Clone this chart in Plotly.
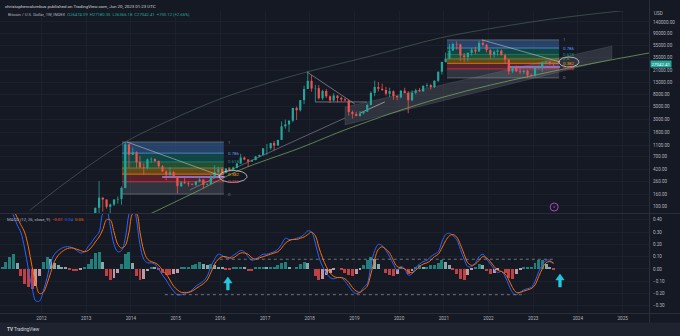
import numpy as np
import pandas as pd
import plotly.graph_objects as go

W, H = 680, 336
BG = "#151924"
GRID = "#1c202c"
TXT = "#b2b5be"
FONT = "Roboto"
UP, DN = "#26a69a", "#ef5350"

# ---------------- price data: monthly OHLC (Jan 2013 .. Jun 2023) ----------------
ohlc_start = "2013-01-01"
opens = [13.3, 20.4, 33.4, 93, 139, 129, 97, 106, 129, 132, 204, 1130,
         754, 830, 560, 457, 445, 627, 638, 586, 477, 388, 338, 377,
         318, 218, 254, 244, 236, 230, 263, 284, 230, 236, 314, 378,
         430, 369, 437, 416, 448, 531, 673, 624, 575, 609, 700, 745,
         966, 970, 1190, 1080, 1350, 2300, 2480, 2870, 4740, 4340, 6450, 10000,
         13800, 10200, 10300, 6930, 9240, 7490, 6390, 7730, 7010, 6630, 6370, 4030,
         3740, 3460, 3830, 4100, 5320, 8560, 10800, 10080, 9600, 8300, 9150, 7570,
         7200, 9350, 8540, 6420, 8630, 9450, 9140, 11350, 11650, 10780, 13800, 19700,
         28950, 33100, 45200, 58800, 57700, 37300, 35050, 41500, 47100, 43800, 61300, 57000,
         46300, 38500, 43200, 45500, 37700, 31800, 19950, 23300, 20050, 19430, 20500, 17150,
         16550, 23130, 23150, 28480, 29250, 27200]
highs = [20.4, 33.4, 94, 266, 140, 129, 110, 130, 146, 215, 1240, 1160,
         1000, 860, 720, 540, 650, 680, 650, 600, 500, 410, 460, 400,
         320, 265, 300, 262, 245, 268, 315, 285, 244, 335, 500, 470,
         460, 448, 440, 470, 545, 780, 700, 626, 620, 720, 755, 975,
         1150, 1200, 1290, 1350, 2790, 3000, 2920, 4750, 5000, 6470, 11400, 19800,
         17200, 11800, 11700, 9750, 10000, 7760, 8500, 7760, 7400, 7000, 6560, 4300,
         4100, 4200, 4150, 5600, 9100, 13900, 13200, 12300, 10900, 10500, 9500, 7750,
         9600, 10500, 9190, 9500, 10070, 10400, 11450, 12500, 12100, 14100, 19900, 29300,
         41950, 58350, 61800, 64900, 59500, 41300, 42300, 50500, 52900, 67000, 69000, 59100,
         47900, 45800, 48200, 47400, 40000, 31900, 24650, 25200, 22800, 21000, 21450, 18400,
         23950, 25250, 29200, 31000, 29850, 27500]
lows = [13.2, 19.1, 33, 50, 80, 90, 65, 100, 110, 105, 200, 450,
        750, 450, 440, 340, 420, 550, 560, 450, 380, 275, 320, 300,
        165, 210, 240, 215, 226, 220, 253, 198, 225, 235, 305, 350,
        350, 365, 400, 412, 440, 530, 605, 465, 570, 605, 685, 740,
        750, 915, 890, 1070, 1350, 2100, 1840, 2700, 2950, 4100, 5500, 10000,
        9000, 6000, 6600, 6450, 7000, 5750, 6080, 5880, 6100, 6200, 3500, 3130,
        3400, 3370, 3700, 4070, 5300, 7500, 9050, 9300, 7700, 7300, 6500, 6430,
        6850, 8450, 3850, 6150, 8100, 8900, 8900, 10500, 9850, 10400, 13200, 17600,
        28200, 32300, 44950, 47000, 30000, 28800, 29300, 37300, 39600, 43300, 53300, 42000,
        32900, 34300, 37200, 37700, 26700, 17600, 18800, 19550, 18150, 18200, 15500, 16250,
        16500, 21400, 19600, 26950, 25800, 24800]
closes = [20.4, 33.4, 93, 139, 129, 97, 106, 129, 132, 204, 1130, 754,
          830, 560, 457, 445, 627, 638, 586, 477, 388, 338, 377, 318,
          218, 254, 244, 236, 230, 263, 284, 230, 236, 314, 378, 430,
          369, 437, 416, 448, 531, 673, 624, 575, 609, 700, 745, 966,
          970, 1190, 1080, 1350, 2300, 2480, 2870, 4740, 4340, 6450, 10000, 13800,
          10200, 10300, 6930, 9240, 7490, 6390, 7730, 7010, 6630, 6370, 4030, 3740,
          3460, 3830, 4100, 5320, 8560, 10800, 10080, 9600, 8300, 9150, 7570, 7200,
          9350, 8540, 6420, 8630, 9450, 9140, 11350, 11650, 10780, 13800, 19700, 28950,
          33100, 45200, 58800, 57700, 37300, 35050, 41500, 47100, 43800, 61300, 57000, 46300,
          38500, 43200, 45500, 37700, 31800, 19950, 23300, 20050, 19430, 20500, 17150, 16550,
          23130, 23150, 28480, 29250, 27200, 27042.41]
last_price = 27042.41

# ---------------- MACD (12, 26, close, 9): monthly readings, Feb 2011 .. Jun 2023 ----------------
macd_start = "2011-02-01"
macd_line = [0.60, 0.56, 0.50, 0.44, 0.36, 0.30, 0.17, 0.00, -0.15, -0.26, -0.26,
             -0.18, -0.07, 0.05, 0.12, 0.15, 0.17, 0.18, 0.18, 0.17, 0.15, 0.13, 0.14,
             0.18, 0.22, 0.26, 0.30, 0.45, 0.48, 0.35, 0.20, 0.14, 0.15, 0.25, 0.45,
             0.55, 0.40, 0.20, 0.08, 0.05, 0.05, 0.04, 0.00, -0.05, -0.09, -0.14, -0.18,
             -0.21, -0.21, -0.20, -0.19, -0.17, -0.14, -0.12, -0.10, -0.06, 0.02, 0.08, 0.12,
             0.11, 0.09, 0.09, 0.11, 0.13, 0.15, 0.14, 0.10, 0.07, 0.08, 0.10, 0.12,
             0.12, 0.13, 0.14, 0.16, 0.20, 0.25, 0.24, 0.24, 0.25, 0.26, 0.28, 0.31,
             0.30, 0.21, 0.10, 0.02, -0.03, -0.07, -0.08, -0.07, -0.07, -0.10, -0.14, -0.18,
             -0.20, -0.19, -0.15, -0.12, 0.03, 0.15, 0.20, 0.19, 0.15, 0.10, 0.04, -0.01,
             0.02, 0.00, -0.05, -0.04, 0.01, 0.04, 0.06, 0.07, 0.10, 0.12, 0.14, 0.22,
             0.28, 0.29, 0.27, 0.24, 0.16, 0.08, 0.02, 0.02, 0.05, 0.10, 0.12, 0.08,
             0.04, 0.00, -0.03, -0.02, -0.06, -0.13, -0.19, -0.21, -0.19, -0.17, -0.16, -0.15,
             -0.10, -0.02, 0.03, 0.07, 0.07, 0.04]
signal_line = [0.55, 0.55, 0.52, 0.48, 0.42, 0.36, 0.30, 0.18, 0.02, -0.12, -0.20,
               -0.19, -0.12, -0.03, 0.06, 0.11, 0.14, 0.16, 0.17, 0.17, 0.16, 0.15, 0.14,
               0.15, 0.18, 0.22, 0.26, 0.32, 0.40, 0.40, 0.30, 0.20, 0.17, 0.19, 0.30,
               0.45, 0.45, 0.30, 0.15, 0.08, 0.06, 0.05, 0.03, -0.01, -0.04, -0.09, -0.14,
               -0.17, -0.19, -0.19, -0.19, -0.18, -0.16, -0.14, -0.12, -0.09, -0.03, 0.04, 0.08,
               0.10, 0.10, 0.09, 0.09, 0.11, 0.13, 0.13, 0.12, 0.09, 0.08, 0.09, 0.10,
               0.11, 0.12, 0.13, 0.14, 0.17, 0.21, 0.23, 0.24, 0.24, 0.25, 0.26, 0.28,
               0.30, 0.27, 0.18, 0.09, 0.02, -0.03, -0.06, -0.07, -0.07, -0.08, -0.11, -0.15,
               -0.18, -0.19, -0.17, -0.14, -0.04, 0.08, 0.16, 0.18, 0.16, 0.13, 0.07, 0.02,
               0.01, 0.00, -0.02, -0.03, -0.01, 0.02, 0.04, 0.05, 0.07, 0.10, 0.12, 0.17,
               0.23, 0.27, 0.28, 0.26, 0.20, 0.12, 0.05, 0.03, 0.04, 0.07, 0.10, 0.09,
               0.06, 0.02, -0.01, -0.02, -0.04, -0.09, -0.15, -0.19, -0.19, -0.18, -0.17, -0.16,
               -0.13, -0.06, 0.00, 0.05, 0.06, 0.05]
macd_hist = [0.02, 0.06, 0.10, 0.12, 0.05, -0.06, -0.12, -0.15, -0.16, -0.14, -0.06,
             0.06, 0.10, 0.08, 0.05, 0.03, 0.02, 0.01, -0.01, -0.02, -0.02, -0.01, 0.01,
             0.04, 0.08, 0.13, 0.14, 0.06, -0.06, -0.09, -0.07, -0.03, 0.04, 0.12, 0.14,
             0.05, -0.06, -0.09, -0.08, -0.02, 0.02, 0.01, -0.01, -0.03, -0.05, -0.05, -0.04,
             -0.03, 0.01, 0.02, 0.02, 0.03, 0.04, 0.06, 0.04, 0.03, 0.04, 0.03, 0.02,
             0.01, -0.01, -0.01, 0.01, 0.02, 0.02, 0.01, -0.02, -0.02, 0.01, 0.01, 0.02,
             0.01, 0.01, 0.01, 0.03, 0.05, 0.06, 0.02, 0.00, 0.02, 0.04, 0.06, 0.05,
             0.00, -0.06, -0.09, -0.08, -0.05, -0.03, -0.01, 0.00, -0.01, -0.03, -0.05, -0.06,
             -0.04, -0.01, 0.03, 0.07, 0.10, 0.08, 0.04, 0.00, -0.03, -0.05, -0.06, -0.04,
             0.01, 0.00, -0.04, -0.02, 0.01, 0.03, 0.02, 0.02, 0.03, 0.03, 0.05, 0.07,
             0.06, 0.03, -0.01, -0.04, -0.08, -0.09, -0.05, -0.01, 0.02, 0.04, 0.03, -0.02,
             -0.04, -0.03, -0.01, 0.00, -0.03, -0.07, -0.08, -0.04, -0.01, 0.01, 0.01, 0.02,
             0.05, 0.07, 0.07, 0.04, 0.02, -0.01]

# ---------------- axis ticks ----------------
price_ticks = [100, 160, 260, 420, 700, 1100, 1800, 3000, 5000, 8000,
               13000, 21000, 35000, 55000, 90000, 140000]
macd_ticks = [-0.3, -0.2, -0.1, 0.0, 0.1, 0.2, 0.3, 0.4]
years = list(range(2012, 2026))

# ---------------- drawings (decimal year, price) ----------------
fib_levels = [0, 0.236, 0.382, 0.5, 0.618, 0.786, 1]
fib_labels = ["0", "0.236", "0.382", "0.5", "0.618", "0.786", "1"]
fib1_time, fib1_range = [2013.80, 2016.08], [160, 1240]
fib2_time, fib2_range = [2021.07, 2023.58], [15500, 69000]

arc_t = [2011.743, 2012.861, 2013.913, 2014.987, 2015.993, 2016.999, 2017.94,
         2019.461, 2020.915, 2022.257, 2023.6, 2025.59]
arc_p = [85, 381, 1292, 3190, 6750, 12170, 19530, 38100, 74500, 114800, 163700, 242700]
green_t = [2014.427, 2015.546, 2016.44, 2017.783, 2018.9, 2020.915, 2023.264, 2025.59]
green_p = [73, 188, 412, 980, 2150, 7015, 18800, 41200]
trend_t = [2015.32, 2016.33, 2017.56, 2018.79]
trend_p = [188, 446, 1194, 3190]
band_t = [2018.79, 2024.76, 2024.76, 2018.79]
band_p = [4920, 54300, 32600, 2426]
tri_t, tri_p = [2017.94, 2019.01], [19530, 5546]
flat_t, flat_p = [2018.12, 2019.28], [6000, 6000]
small_t, small_p = [2019.13, 2019.68], [3890, 6000]
diag1_t, diag1_p = [2013.913, 2016.08], [1240, 313]
diag2_t, diag2_p = [2021.855, 2023.60], [69000, 28940]
purple1_t, purple1_p = [2014.70, 2016.10], [313, 313]
purple2_t, purple2_p = [2022.43, 2023.60], [23770, 23770]
ell1 = [2016.284, 320, 0.313, 0.1026]   # centre t, centre price, half-width (yr), half-height (decades)
ell2 = [2023.80, 28940, 0.224, 0.0855]
event_t, event_p = 2023.47, 96

macd_hi_t, macd_hi_v = [2015.99, 2023.49], [0.079, 0.079]
macd_lo_t, macd_lo_v = [2014.76, 2022.82], [-0.209, -0.209]
arrow_tips = [(2016.17, -0.065), (2023.60, -0.041)]

# pixel scale of the two panes (for drawing fixed-size arrow glyphs)
PX_PER_YEAR = 44.7
PX_PER_MACD = 123.0


def dy(t):
    y = int(np.floor(t))
    a, b = pd.Timestamp(y, 1, 1), pd.Timestamp(y + 1, 1, 1)
    return a + (b - a) * (t - y)


def dys(ts):
    return [dy(t) for t in ts]


months = pd.date_range(ohlc_start, periods=len(closes), freq="MS") + pd.Timedelta(days=15)
mmonths = pd.date_range(macd_start, periods=len(macd_line), freq="MS") + pd.Timedelta(days=15)

fig = go.Figure()


def seg(ts, ps, color, width=0.8, dash=None, shape="linear", xa="x", ya="y", fill=None, fillcolor=None):
    fig.add_trace(go.Scatter(x=dys(ts), y=ps, mode="lines", xaxis=xa, yaxis=ya,
                             line=dict(color=color, width=width, dash=dash, shape=shape),
                             fill=fill, fillcolor=fillcolor, hoverinfo="skip"))


# --- fib retracements (filled bands) ---
band_cols = ["rgba(120,123,134,0.28)", "rgba(242,54,69,0.30)", "rgba(255,152,0,0.35)",
             "rgba(76,175,80,0.35)", "rgba(8,153,129,0.35)", "rgba(66,135,210,0.38)"]
lvl_cols = ["#787b86", "#f23645", "#ff9800", "#4caf50", "#089981", "#5b9cf6", "#787b86"]


def fib_prices(rng):
    lo, hi = np.log10(rng[0]), np.log10(rng[1])
    return [10 ** (lo + L * (hi - lo)) for L in fib_levels]


annotations = []
for ft, fr in [(fib1_time, fib1_range), (fib2_time, fib2_range)]:
    lv = fib_prices(fr)
    for i in range(len(lv) - 1):
        seg([ft[0], ft[1], ft[1], ft[0], ft[0]], [lv[i], lv[i], lv[i + 1], lv[i + 1], lv[i]],
            "rgba(0,0,0,0)", width=0, fill="toself", fillcolor=band_cols[i])
    for i, p in enumerate(lv):
        seg(ft, [p, p], lvl_cols[i], width=0.7)
        annotations.append(dict(x=dy(ft[1] + 0.04), y=np.log10(p), xref="x", yref="y", text=fib_labels[i],
                                showarrow=False, xanchor="left", yanchor="middle",
                                font=dict(size=4.4, color=lvl_cols[i], family=FONT)))

# --- channel band & trend lines ---
seg(band_t + [band_t[0]], band_p + [band_p[0]], "rgba(150,153,165,0.35)", width=0.5,
    fill="toself", fillcolor="rgba(150,153,165,0.20)")
seg(arc_t, arc_p, "rgba(120,160,135,0.45)", width=0.8, shape="spline")
seg(green_t, green_p, "rgba(130,180,100,0.75)", width=0.9, shape="spline")
seg(trend_t, trend_p, "rgba(170,173,185,0.6)", width=0.8)
seg(tri_t, tri_p, "rgba(200,200,210,0.7)", width=0.7)
seg(flat_t, flat_p, "rgba(200,200,210,0.7)", width=0.7)
seg(small_t, small_p, "rgba(220,220,230,0.8)", width=0.7)
seg(purple1_t, purple1_p, "rgba(149,117,205,0.9)", width=2)
seg(purple2_t, purple2_p, "rgba(149,117,205,0.9)", width=2)

# --- candles: thin wicks + narrow bodies ---
for up in (True, False):
    wx, wy, bx, by = [], [], [], []
    for d, o, h, l, c in zip(months, opens, highs, lows, closes):
        if (c >= o) != up:
            continue
        wx += [d, d, None]
        wy += [l, h, None]
        bx += [d, d, None]
        by += [o, c if c != o else o * 1.01, None]
    col = UP if up else DN
    fig.add_trace(go.Scatter(x=wx, y=wy, mode="lines", line=dict(color=col, width=0.8),
                             hoverinfo="skip", connectgaps=False))
    fig.add_trace(go.Scatter(x=bx, y=by, mode="lines", line=dict(color=col, width=2.2),
                             hoverinfo="skip", connectgaps=False))

seg(diag1_t, diag1_p, "rgba(210,210,220,0.75)", width=0.7)
seg(diag2_t, diag2_p, "rgba(210,210,220,0.75)", width=0.7)

# --- ellipses ---
ang = np.linspace(0, 2 * np.pi, 73)
for e in [ell1, ell2]:
    et = e[0] + e[2] * np.cos(ang)
    ep = 10 ** (np.log10(e[1]) + e[3] * np.sin(ang))
    seg(list(et), list(ep), "rgba(230,230,235,0.9)", width=0.8)

fig.add_trace(go.Scatter(x=[dy(event_t)], y=[event_p], mode="markers", hoverinfo="skip",
                         marker=dict(symbol="circle-open-dot", size=8, color="#ab47bc",
                                     line=dict(width=1, color="#ab47bc"))))

# --- MACD pane ---
hcols = []
for i, h in enumerate(macd_hist):
    prev = macd_hist[i - 1] if i else h
    if h >= 0:
        hcols.append("#26a69a" if h >= prev else "#b2dfdb")
    else:
        hcols.append("#ff5252" if h <= prev else "#ffcdd2")
fig.add_trace(go.Bar(x=mmonths, y=macd_hist, marker=dict(color=hcols, line=dict(width=0)),
                     opacity=0.72, width=24 * 86400000, xaxis="x2", yaxis="y2", hoverinfo="skip"))
fig.add_trace(go.Scatter(x=mmonths, y=macd_line, mode="lines", line=dict(color="#2962ff", width=1, shape="spline"),
                         xaxis="x2", yaxis="y2", hoverinfo="skip"))
fig.add_trace(go.Scatter(x=mmonths, y=signal_line, mode="lines", line=dict(color="#ff6d00", width=1, shape="spline"),
                         xaxis="x2", yaxis="y2", hoverinfo="skip"))
seg(macd_hi_t, macd_hi_v, "rgba(160,163,175,0.8)", width=0.8, dash="dot", xa="x2", ya="y2")
seg(macd_lo_t, macd_lo_v, "rgba(160,163,175,0.8)", width=0.8, dash="dot", xa="x2", ya="y2")

# arrow glyph outline in pixels (dx right, dy down) relative to the tip
arrow_px = [(0, 0), (4.2, 6), (1.4, 6), (1.4, 13), (-1.4, 13), (-1.4, 6), (-4.2, 6), (0, 0)]
for tt, tv in arrow_tips:
    ax_t = [tt + dx / PX_PER_YEAR for dx, _ in arrow_px]
    ax_v = [tv - dpy / PX_PER_MACD for _, dpy in arrow_px]
    seg(ax_t, ax_v, "#26c6da", width=0.5, xa="x2", ya="y2", fill="toself", fillcolor="#26c6da")

# ---------------- layout ----------------
PX = lambda px: 1 - px / H
xr = [dy(2011.072), dy(2025.59)]
xdom = [0, 649 / W]
tickdates = [pd.Timestamp(y, 1, 1) for y in years]
axfont = dict(size=4.6, color=TXT, family=FONT)

annotations += [
    dict(x=3 / W, y=PX(6), xref="paper", yref="paper", xanchor="left", yanchor="middle", showarrow=False,
         text="christophercolumbus published on TradingView.com, Jun 20, 2023 01:23 UTC",
         font=dict(size=4.4, color="#d1d4dc", family=FONT)),
    dict(x=6 / W, y=PX(15), xref="paper", yref="paper", xanchor="left", yanchor="middle", showarrow=False,
         text="Bitcoin / U.S. Dollar, 1W, INDEX  <span style='color:#26a69a'>O26474.09  H27180.35  "
              "L26366.18  C27042.41  +700.12 (+2.66%)</span>",
         font=dict(size=4.2, color=TXT, family=FONT)),
    dict(x=5 / W, y=PX(219), xref="paper", yref="paper", xanchor="left", yanchor="middle", showarrow=False,
         text="MACD (12, 26, close, 9)  <span style='color:#ff5252'>−0.01</span>  "
              "<span style='color:#2962ff'>0.04</span>  <span style='color:#ff6d00'>0.05</span>",
         font=dict(size=4.2, color=TXT, family=FONT)),
    dict(x=652 / W, y=PX(14), xref="paper", yref="paper", xanchor="left", yanchor="middle", showarrow=False,
         text="USD", font=axfont),
    dict(x=650 / W, y=np.log10(last_price), xref="paper", yref="y", xanchor="left", yanchor="middle",
         showarrow=False, text=f"{last_price:.2f}", bgcolor=UP, borderpad=0.6,
         font=dict(size=4.4, color="#ffffff", family=FONT)),
    dict(x=5 / W, y=PX(329.5), xref="paper", yref="paper", xanchor="left", yanchor="middle", showarrow=False,
         text="<b>TV</b> TradingView", font=dict(size=4.6, color="#d1d4dc", family=FONT)),
]

shapes = [
    dict(type="rect", xref="paper", yref="paper", x0=0, x1=1, y0=0, y1=PX(322.5),
         fillcolor="#1f2330", line=dict(width=0), layer="below"),
    dict(type="line", xref="paper", yref="paper", x0=0, x1=1, y0=PX(213.5), y1=PX(213.5),
         line=dict(color="#2a2e39", width=1)),
    dict(type="line", xref="paper", yref="paper", x0=0, x1=1, y0=PX(313.5), y1=PX(313.5),
         line=dict(color="#2a2e39", width=1)),
    dict(type="line", xref="paper", yref="paper", x0=649.5 / W, x1=649.5 / W, y0=PX(322.5), y1=1,
         line=dict(color="#2a2e39", width=1)),
]

fig.update_layout(
    width=W, height=H, margin=dict(l=0, r=0, t=0, b=0),
    paper_bgcolor=BG, plot_bgcolor=BG, showlegend=False, hovermode=False,
    font=dict(family=FONT, color=TXT), bargap=0,
    xaxis=dict(domain=xdom, range=xr, type="date", anchor="y", showticklabels=False,
               tickvals=tickdates, showgrid=True, gridcolor=GRID, gridwidth=1, zeroline=False,
               fixedrange=True),
    yaxis=dict(domain=[PX(213), PX(11)], type="log", range=[1.880, 5.333], side="right", anchor="x",
               tickvals=price_ticks, ticktext=[f"{v:.2f}" for v in price_ticks], tickfont=axfont,
               showgrid=True, gridcolor=GRID, zeroline=False, ticks="", ticklabelstandoff=3),
    xaxis2=dict(domain=xdom, range=xr, type="date", anchor="y2", matches="x",
                tickvals=tickdates, ticktext=[str(y) for y in years], tickfont=axfont,
                showgrid=True, gridcolor=GRID, zeroline=False, ticks="", ticklabelstandoff=1),
    yaxis2=dict(domain=[PX(313), PX(214)], range=[-0.358, 0.447], side="right", anchor="x2",
                tickvals=macd_ticks, ticktext=[f"{v:.2f}".replace("-", "−") for v in macd_ticks],
                tickfont=axfont, showgrid=True, gridcolor=GRID, zeroline=False, ticks="",
                ticklabelstandoff=3),
    annotations=annotations, shapes=shapes,
)

fig.write_html("out.html")
